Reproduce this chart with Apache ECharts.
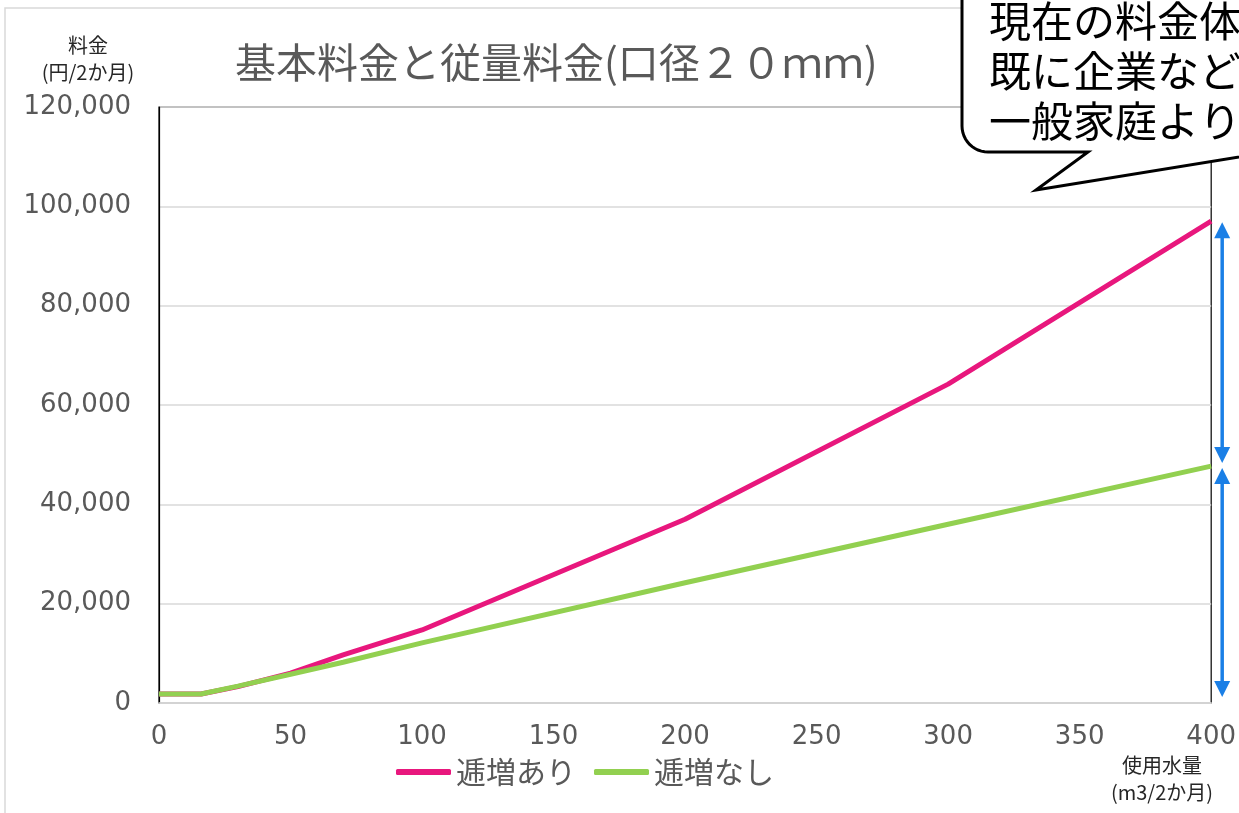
<!DOCTYPE html>
<html><head><meta charset="utf-8">
<script src="https://cdn.jsdelivr.net/npm/echarts@6/dist/echarts.min.js"></script>
<style>html,body{margin:0;padding:0;background:#fff}#c{width:1239px;height:813px}</style>
</head><body><div id="c"></div>
<script>
const usage = [0, 16, 30, 50, 70, 100, 200, 300, 400];
const withTier = [1800, 1800, 3300, 6000, 9700, 14700, 37000, 64200, 97000];
const noTier = [1800, 1800, 3400, 5800, 8200, 12100, 24200, 36000, 47700];
const seriesNames = ['逓増あり', '逓増なし'];
const titleText = '基本料金と従量料金(口径２０ｍｍ)';
const yName = ['料金', '(円/2か月)'];
const xName = ['使用水量', '(m3/2か月)'];
const calloutLines = ['現在の料金体', '既に企業など', '一般家庭より'];

const FONT = '"Noto Sans CJK JP", "Noto Sans", sans-serif';
const NUMFONT = '"DejaVu Sans", sans-serif';
const chart = echarts.init(document.getElementById('c'));
const pair = (xs, ys) => xs.map((x, i) => [x, ys[i]]);
const option = {
  animation: false,
  textStyle: { fontFamily: FONT },
  title: { text: titleText, left: 230, top: 37, textStyle: { fontSize: 41, fontWeight: 'normal', color: '#595959', fontFamily: FONT } },
  legend: {
    data: seriesNames, left: 391, top: 752, itemWidth: 55, itemHeight: 6, itemGap: 18, icon: 'roundRect',
    textStyle: { fontSize: 30, color: '#595959', fontFamily: FONT }
  },
  grid: { left: 159, top: 107, right: 24, bottom: 110, show: true, borderColor: '#000', borderWidth: 1.2 },
  xAxis: {
    type: 'value', min: 0, max: 400, interval: 50,
    axisLine: { show: true, onZero: false, lineStyle: { color: '#d9d9d9', width: 1.5 } },
    axisTick: { show: false }, splitLine: { show: false },
    axisLabel: { fontSize: 26, color: '#595959', margin: 21, fontFamily: NUMFONT }
  },
  yAxis: {
    type: 'value', min: 0, max: 120000, interval: 20000,
    axisLine: { show: true, lineStyle: { color: '#000', width: 1.2 } },
    axisTick: { show: false },
    splitLine: { show: true, lineStyle: { color: '#d9d9d9', width: 1.5 } },
    axisLabel: { fontSize: 26, color: '#595959', margin: 28, fontFamily: NUMFONT,
      formatter: v => v.toLocaleString('en-US') }
  },
  series: [
    { name: seriesNames[0], type: 'line', data: pair(usage, withTier), showSymbol: false, lineStyle: { color: '#e8177d', width: 5 }, itemStyle: { color: '#e8177d' }, z: 3 },
    { name: seriesNames[1], type: 'line', data: pair(usage, noTier), showSymbol: false, lineStyle: { color: '#92d050', width: 5 }, itemStyle: { color: '#92d050' }, z: 4 }
  ]
};
chart.setOption(option);

// annotations tied to data
const pTop = chart.convertToPixel({ gridIndex: 0 }, [400, withTier[withTier.length - 1]]);
const pMid = chart.convertToPixel({ gridIndex: 0 }, [400, noTier[noTier.length - 1]]);
const pBot = chart.convertToPixel({ gridIndex: 0 }, [400, 0]);
const ax = pTop[0] + 11;
const blue = '#1a7fe6';
function dblArrow(y1, y2) {
  const h = 16, w = 8;
  return [
    { type: 'line', shape: { x1: ax, y1: y1 + h - 2, x2: ax, y2: y2 - h + 2 }, style: { stroke: blue, lineWidth: 3.5 }, z: 20 },
    { type: 'polygon', shape: { points: [[ax, y1], [ax - w, y1 + h], [ax + w, y1 + h]] }, style: { fill: blue }, z: 20 },
    { type: 'polygon', shape: { points: [[ax, y2], [ax - w, y2 - h], [ax + w, y2 - h]] }, style: { fill: blue }, z: 20 }
  ];
}
// speech bubble outline
const R = 26, cx = 962 + R, cy = 152 - R;
const bubblePts = [[962, -30], [962, cy]];
for (let k = 1; k < 12; k++) {
  const a = Math.PI - (Math.PI / 2) * (k / 12);
  bubblePts.push([cx + R * Math.cos(a), cy + R * Math.sin(a)]);
}
bubblePts.push([cx, 152], [1088, 152], [1036, 190], [1300, 147], [1300, -30]);

const graphics = [
  { type: 'rect', shape: { x: 5, y: 8, width: 1300, height: 900 }, style: { fill: 'none', stroke: '#d9d9d9', lineWidth: 1.5 }, z: 1, silent: true },
  { type: 'text', style: { text: yName[0], x: 88, y: 45, textAlign: 'center', textVerticalAlign: 'middle', fontSize: 20, fill: '#262626', fontFamily: FONT }, z: 10 },
  { type: 'text', style: { text: yName[1], x: 88, y: 72, textAlign: 'center', textVerticalAlign: 'middle', fontSize: 20, fill: '#262626', fontFamily: FONT }, z: 10 },
  { type: 'text', style: { text: xName[0], x: 1162, y: 765, textAlign: 'center', textVerticalAlign: 'middle', fontSize: 20, fill: '#262626', fontFamily: FONT }, z: 10 },
  { type: 'text', style: { text: xName[1], x: 1162, y: 792, textAlign: 'center', textVerticalAlign: 'middle', fontSize: 20, fill: '#262626', fontFamily: FONT }, z: 10 },
  { type: 'polygon', shape: { points: bubblePts }, style: { fill: '#fff', stroke: '#000', lineWidth: 3, lineJoin: 'miter' }, z: 30 }
].concat(calloutLines.map((t, i) => ({
  type: 'text', style: { text: t, x: 989, y: 21 + i * 50, textVerticalAlign: 'middle', fontSize: 42, fill: '#000', fontFamily: FONT }, z: 31
}))).concat(dblArrow(pTop[1] + 1, pMid[1] - 3)).concat(dblArrow(pMid[1] + 2, pBot[1] - 6));
chart.setOption({ graphic: graphics });
</script></body></html>
